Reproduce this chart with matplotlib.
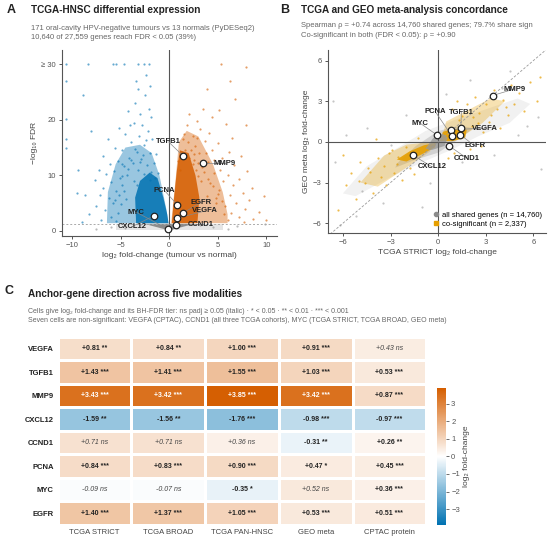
import numpy as np
import matplotlib
matplotlib.use("Agg")
import matplotlib.pyplot as plt
from matplotlib.colors import LinearSegmentedColormap
from matplotlib.lines import Line2D

plt.rcParams["font.family"] = ["Liberation Sans", "DejaVu Sans"]
plt.rcParams["axes.unicode_minus"] = True

BLUE = "#0072B2"
ORANGE = "#D55E00"
AMBER = "#E69F00"
GREY = "#8c8c8c"
TXT = "#222222"
SUB = "#666666"

# ---------------- panel A data (volcano) ----------------
anchor_genes = ["VEGFA", "TGFB1", "MMP9", "CXCL12", "CCND1", "PCNA", "MYC", "EGFR"]
volc_lfc = [0.81, 1.43, 3.43, -1.59, 0.71, 0.84, -0.09, 1.40]
volc_fdr = [2.3, 13.5, 12.2, 2.7, 1.1, 4.7, 0.3, 3.2]
volc_lab_x = [3.7, -0.05, 5.7, -3.8, 3.2, -0.5, -3.4, 3.3]
volc_lab_y = [3.6, 16.0, 12.2, 0.8, 1.2, 7.3, 3.4, 5.2]

blue_x = [-10.6, -8.3, -5.8, -5.5, -4.6, -3.2, -2.6, -2.1, -10.6, -10.6, -10.6, -10.6, -8.9, -2.4,
          -3.0, -8.0, -9.4, -9.5, -8.7, -3.2, -2.5, -3.5, -2.1, -4.2, -1.9, -3.6, -2.8, -5.2, -2.2,
          -4.5, -3.1, -6.3, -1.8, -3.9, -2.6, -5.6, -4.8, -3.3, -2.0, -6.8, -4.1, -2.9, -5.3, -3.7,
          -1.6, -6.1, -4.6, -7.2, -5.7, -3.2, -6.5, -4.3, -5.1, -7.6, -6.0, -4.9, -6.8, -5.5, -7.1,
          -6.2, -5.8, -7.5, -6.6, -5.3, -8.2, -6.0, -7.0, -5.5, -9.0, -4.0, -3.4, -2.0,
          -4.8, -4.2, -3.6, -3.0, -2.6, -2.3, -1.9, -1.5, -3.3, -4.6, -5.2, -5.6, -2.7, -3.9,
          -1.2, -4.4, -5.0, -2.0, -3.5, -2.4, -1.4, -4.9]
blue_y = [30, 30, 30, 30, 30, 30, 30, 30, 26.9, 20.2, 16.5, 15.0, 24.4, 28.0,
          21.0, 18.0, 11.0, 6.9, 6.5, 25.5, 24.5, 23.0, 22.0, 21.5, 20.5, 19.5, 19.0, 18.5, 18.0,
          17.5, 17.0, 16.5, 16.5, 16.0, 15.5, 15.0, 14.5, 14.2, 14.0, 13.5, 13.2, 13.0, 12.5, 12.2,
          12.2, 12.0, 11.6, 11.0, 10.8, 11.0, 10.2, 10.0, 9.5, 9.2, 8.8, 8.2, 7.8, 7.2, 6.5,
          6.0, 5.0, 4.5, 3.8, 3.2, 3.0, 2.5, 2.0, 1.8, 1.6, 19.0, 27.0, 26.0,
          9.8, 11.2, 9.0, 12.4, 10.2, 11.8, 10.6, 9.6, 8.2, 7.2, 6.4, 5.6, 13.6, 12.8,
          10.4, 5.8, 4.8, 9.2, 14.8, 16.4, 13.8, 12.0]
orange_x = [5.3, 7.9, 6.3, 6.8, 3.9, 5.1, 7.9, 9.7, 10.0, 3.5, 4.4, 2.9, 5.8, 3.2, 4.1, 2.4, 6.5,
            3.7, 5.0, 2.7, 4.4, 6.1, 3.1, 7.4, 5.4, 2.5, 4.0, 6.7, 3.4, 5.2, 8.0, 4.6, 6.0, 3.0,
            7.2, 5.5, 4.2, 6.6, 8.5, 5.1, 7.6, 6.3, 4.8, 8.2, 6.9, 5.7, 7.8, 9.2, 6.4, 7.2, 8.6,
            6.0, 7.7, 2.0, 1.8, 1.5, 1.9, 2.2,
            0.9, 1.2, 1.6, 2.0, 2.6, 3.0, 3.6, 4.0, 4.5, 5.0, 5.4, 2.8, 1.1, 2.4, 3.3, 4.8, 5.6,
            3.9, 1.4, 2.9, 3.8, 4.6]
orange_y = [30, 29.4, 27.0, 23.8, 25.6, 21.7, 19.0, 6.2, 2.0, 22.0, 20.5, 19.8, 19.3, 18.4, 17.6,
            17.0, 16.8, 16.2, 15.8, 15.2, 14.6, 14.2, 14.0, 13.5, 13.1, 12.8, 12.4, 11.8, 11.5,
            11.0, 10.8, 10.4, 10.0, 9.8, 9.4, 8.9, 8.6, 8.2, 7.8, 7.4, 6.9, 6.4, 6.0, 5.5, 5.0,
            4.5, 4.0, 3.5, 3.2, 2.6, 2.2, 1.9, 1.6, 21.0, 19.0, 17.5, 16.0, 14.5,
            12.5, 13.8, 14.6, 13.2, 13.9, 12.2, 10.6, 9.4, 8.0, 6.6, 5.4, 11.0, 11.0, 12.0, 9.0,
            5.0, 3.0, 6.2, 16.6, 16.8, 14.0, 12.8]
grey_vx = [-6.0, -4.5, 4.5, 6.0, -3.0, 3.2, 9.8, -7.5, 7.0]
grey_vy = [0.8, 0.5, 0.7, 0.4, 1.0, 1.1, 1.2, 0.3, 0.9]

# dense cores, outlines
blue_wide_x = [-6.4, -6.3, -5.5, -4.5, -3.0, -1.8, -1.0, -0.3, -0.07]
blue_wide_y = [1.4, 7.0, 12.0, 15.0, 15.5, 14.0, 10.0, 4.0, 1.4]
blue_core_x = [-3.4, -3.5, -3.0, -2.0, -1.2, -0.6, -0.2, -0.07]
blue_core_y = [1.4, 6.0, 9.0, 10.5, 9.5, 6.0, 3.0, 1.4]
orange_wide_x = [0.2, 0.7, 1.0, 1.8, 3.0, 4.5, 5.5, 6.0, 6.0]
orange_wide_y = [1.4, 10.0, 16.0, 18.0, 17.0, 12.0, 7.0, 3.0, 1.4]
orange_core_x = [0.27, 0.5, 0.8, 1.1, 2.0, 2.7, 3.1, 2.9]
orange_core_y = [1.4, 6.0, 11.0, 14.5, 14.0, 10.0, 6.0, 1.4]
grey_band_x = [-5.5, -5.5, 5.5, 5.5]
grey_band_y = [0.1, 1.3, 1.3, 0.1]
grey_v_x = [0.0, -2.6, 2.6]
grey_v_y = [0.1, 1.3, 1.3]

# ---------------- panel B data (concordance) ----------------
geo_lfc = [0.91, 1.03, 3.42, -0.98, -0.31, 0.47, 0.52, 0.53]
conc_lab_x = [2.93, 1.46, 4.8, -0.4, 1.8, -0.19, -1.14, 2.3]
conc_lab_y = [1.0, 2.17, 3.9, -1.83, -1.2, 2.25, 1.38, -0.3]

cosig_x = [-6.3, -5.8, -5.5, -5.2, -4.9, -4.6, -4.3, -4.1, -3.8, -3.6, -3.3, -3.1, -2.8, -2.5, -2.3,
           -2.0, -1.8, -1.5, -1.3, -6.0, -3.9, 0.9, 1.2, 1.5, 1.8, 2.1, 2.3, 2.6, 2.8, 3.0, 3.2,
           3.5, 3.7, 3.9, 4.1, 4.4, 4.6, 4.8, 5.1, 5.4, 5.8, 6.2, 2.0, 2.7, 6.4, 1.0, 0.6,
           -4.4, -3.4, -2.6, -2.9, -1.6, -5.0, 2.2, 2.5, 3.3, 1.3, 4.3]
cosig_y = [-5.0, -3.2, -2.3, -4.2, -1.5, -3.0, -2.2, -3.8, -1.2, -2.6, -3.2, -0.8, -2.3, -1.1, -2.8,
           -0.4, -1.9, -2.4, 0.3, -1.0, 0.2, 2.4, 3.0, 1.9, 2.8, 1.2, 3.3, 2.1, 0.7, 2.8, 1.5,
           3.8, 2.4, 1.0, 3.1, 2.0, 4.2, 2.8, 3.6, 2.3, 4.4, 3.0, -0.5, -0.3, 4.8, -0.8, -1.2,
           -1.9, -1.8, -1.6, -0.6, -1.2, -2.9, 1.8, 1.4, 2.0, 1.6, 2.6]
shared_x = [-6.5, -5.8, -4.5, -6.2, -3.5, -2.0, 3.5, 5.0, 6.3, 4.5, -0.5, 0.5, 6.5, -6.6, -1.0, 2.0,
            -4.8, -3.0, 1.5, 4.0, -5.2, 5.6]
shared_y = [-1.5, 0.5, 1.0, -6.1, -4.5, 2.0, -1.0, 0.5, 1.8, 5.2, -3.0, 3.5, -2.0, 3.0, -4.8, 4.6,
            -3.6, -0.2, -1.5, 4.0, -5.5, 1.2]

shared_wide_x = [-6.0, -4.5, -2.5, -0.8, 1.0, 3.0, 5.0, 5.8, 4.5, 2.5, 0.8, -1.0, -3.0, -5.2]
shared_wide_y = [-3.8, -1.8, -0.4, 0.8, 1.6, 2.4, 3.2, 2.8, 1.4, 0.4, -0.6, -1.5, -2.6, -4.0]
shared_mid_x = [-2.6, -1.4, 0.0, 1.4, 2.2, 1.3, 0.0, -1.4, -2.7]
shared_mid_y = [-1.6, -0.3, 0.8, 1.2, 1.0, 0.2, -0.8, -1.3, -1.9]
shared_core_x = [-0.8, -0.3, 0.3, 0.6, 0.4, -0.4]
shared_core_y = [-0.5, 0.3, 0.6, 0.3, -0.3, -0.6]
ll_wide_x = [-4.9, -3.4, -2.0, -0.3, -0.5, -2.0, -3.8]
ll_wide_y = [-3.0, -1.0, -0.2, 0.0, -0.7, -1.9, -3.3]
ll_core_x = [-2.6, -1.8, -0.9, -0.1, -0.2, -1.0, -2.0]
ll_core_y = [-1.3, -0.7, -0.25, -0.05, -0.4, -0.9, -1.45]
ur_wide_x = [0.2, 0.5, 1.8, 3.3, 4.2, 2.8, 1.4]
ur_wide_y = [0.05, 1.5, 2.3, 3.2, 3.0, 1.4, 0.3]
ur_core_x = [0.1, 0.3, 1.0, 1.8, 1.7, 0.9]
ur_core_y = [0.05, 0.75, 0.95, 0.9, 0.3, 0.05]

# ---------------- panel C data (heatmap) ----------------
modalities = ["TCGA STRICT", "TCGA BROAD", "TCGA PAN-HNSC", "GEO meta", "CPTAC protein"]
lfc_table = [[0.81, 0.84, 1.00, 0.91, 0.43],
             [1.43, 1.41, 1.55, 1.03, 0.53],
             [3.43, 3.42, 3.85, 3.42, 0.87],
             [-1.59, -1.56, -1.76, -0.98, -0.97],
             [0.71, 0.71, 0.36, -0.31, 0.26],
             [0.84, 0.83, 0.90, 0.47, 0.45],
             [-0.09, -0.07, -0.35, 0.52, 0.36],
             [1.40, 1.37, 1.05, 0.53, 0.51]]
tier_table = [["**", "**", "***", "***", "ns"],
              ["***", "***", "***", "***", "***"],
              ["***", "***", "***", "***", "***"],
              ["**", "**", "***", "***", "***"],
              ["ns", "ns", "ns", "**", "**"],
              ["***", "***", "***", "*", "***"],
              ["ns", "ns", "*", "ns", "***"],
              ["***", "***", "***", "***", "***"]]

fig = plt.figure(figsize=(5.5, 5.4), dpi=100)


def style_axes(ax):
    for s in ["top", "right"]:
        ax.spines[s].set_visible(False)
    for s in ["left", "bottom"]:
        ax.spines[s].set_color("#555555")
        ax.spines[s].set_linewidth(0.8)
    ax.tick_params(labelsize=5.5, colors="#555555", length=2.5, width=0.7, pad=2)


# ---------------- A ----------------
axA = fig.add_axes([0.113, 0.563, 0.391, 0.344])
axA.fill(grey_band_x, grey_band_y, color=GREY, alpha=0.22, lw=0)
axA.fill(grey_v_x, grey_v_y, color="#6e6e6e", alpha=0.75, lw=0)
axA.fill(blue_wide_x, blue_wide_y, color=BLUE, alpha=0.4, lw=0)
axA.fill(blue_core_x, blue_core_y, color=BLUE, alpha=0.85, lw=0)
axA.fill(orange_wide_x, orange_wide_y, color=ORANGE, alpha=0.4, lw=0)
axA.fill(orange_core_x, orange_core_y, color=ORANGE, alpha=0.85, lw=0)
axA.scatter(blue_x, blue_y, s=2.5, color=BLUE, alpha=0.6, lw=0)
axA.scatter(orange_x, orange_y, s=2.5, color=ORANGE, alpha=0.6, lw=0)
axA.scatter(grey_vx, grey_vy, s=2.5, color=GREY, alpha=0.6, lw=0)
axA.axvline(0, color="#555555", lw=0.8)
axA.axhline(-np.log10(0.05), color="#aaaaaa", lw=0.7, ls=(0, (2, 2)))
for i, g in enumerate(anchor_genes):
    axA.plot([volc_lfc[i], volc_lab_x[i]], [volc_fdr[i], volc_lab_y[i]], color="#888888", lw=0.5, zorder=4)
axA.scatter(volc_lfc, volc_fdr, s=22, facecolor="white", edgecolor="#222222", lw=0.9, zorder=5)
for i, g in enumerate(anchor_genes):
    axA.text(volc_lab_x[i], volc_lab_y[i], g, fontsize=5.5, fontweight="bold", color=TXT,
             ha="center", va="center", zorder=6)
axA.set_xlim(-11, 11.1)
axA.set_ylim(-0.9, 32.5)
axA.set_xticks([-10, -5, 0, 5, 10])
axA.set_yticks([0, 10, 20, 30])
axA.set_yticklabels(["0", "10", "20", "≥ 30"])
axA.set_xlabel("log₂ fold-change (tumour vs normal)", fontsize=6, color="#444444", labelpad=2)
axA.set_ylabel("−log₁₀ FDR", fontsize=6, color="#444444", labelpad=2)
style_axes(axA)

# ---------------- B ----------------
axB = fig.add_axes([0.596, 0.569, 0.397, 0.339])
axB.fill(shared_wide_x, shared_wide_y, color=GREY, alpha=0.12, lw=0)
axB.fill(shared_mid_x, shared_mid_y, color=GREY, alpha=0.3, lw=0)
axB.fill(ll_wide_x, ll_wide_y, color=AMBER, alpha=0.3, lw=0)
axB.fill(ur_wide_x, ur_wide_y, color=AMBER, alpha=0.3, lw=0)
axB.fill(ll_core_x, ll_core_y, color=AMBER, alpha=0.9, lw=0)
axB.fill(ur_core_x, ur_core_y, color=AMBER, alpha=0.9, lw=0)
axB.fill(shared_core_x, shared_core_y, color="#9a9a9a", alpha=0.8, lw=0)
axB.scatter(shared_x, shared_y, s=2.5, color=GREY, alpha=0.5, lw=0)
axB.scatter(cosig_x, cosig_y, s=2.5, color=AMBER, alpha=0.7, lw=0)
axB.axvline(0, color="#555555", lw=0.8)
axB.axhline(0, color="#555555", lw=0.8)
axB.plot([-7, 7], [-7, 7], color="#999999", lw=0.6, ls=(0, (3, 2)))
for i, g in enumerate(anchor_genes):
    axB.plot([volc_lfc[i], conc_lab_x[i]], [geo_lfc[i], conc_lab_y[i]], color="#888888", lw=0.5, zorder=4)
axB.scatter(volc_lfc, geo_lfc, s=22, facecolor="white", edgecolor="#222222", lw=0.9, zorder=5)
for i, g in enumerate(anchor_genes):
    axB.text(conc_lab_x[i], conc_lab_y[i], g, fontsize=5.5, fontweight="bold", color=TXT,
             ha="center", va="center", zorder=6)
axB.set_xlim(-6.95, 6.8)
axB.set_ylim(-6.7, 6.8)
axB.set_xticks([-6, -3, 0, 3, 6])
axB.set_yticks([-6, -3, 0, 3, 6])
axB.set_xlabel("TCGA STRICT log₂ fold-change", fontsize=6, color="#444444", labelpad=2)
axB.set_ylabel("GEO meta log₂ fold-change", fontsize=6, color="#444444", labelpad=2)
style_axes(axB)
handles = [Line2D([], [], ls="", marker="o", ms=3, color=GREY),
           Line2D([], [], ls="", marker="s", ms=3, color=AMBER)]
axB.legend(handles, ["all shared genes (n = 14,760)", "co-significant (n = 2,337)"],
           loc="lower right", fontsize=5.5, frameon=False, handletextpad=0.2,
           borderaxespad=0.2, labelspacing=0.3, handlelength=1.0)

# ---------------- C ----------------
cmap = LinearSegmentedColormap.from_list("bo", [BLUE, "white", ORANGE])
vals = np.array(lfc_table)
vmax = 3.9
axC = fig.add_axes([0.105, 0.028, 0.67, 0.348])
mesh = axC.pcolormesh(vals, cmap=cmap, vmin=-vmax, vmax=vmax, edgecolors="white", linewidth=1.0)
axC.set_xlim(0, len(modalities))
axC.set_ylim(len(anchor_genes), 0)
for r in range(len(anchor_genes)):
    for c in range(len(modalities)):
        v = lfc_table[r][c]
        t = tier_table[r][c]
        col = "white" if abs(v) > 2.5 else TXT
        if t == "ns":
            axC.text(c + 0.5, r + 0.5, f"{v:+.2f} ns", ha="center", va="center",
                     fontsize=5, style="italic", color="#444444")
        else:
            axC.text(c + 0.5, r + 0.5, f"{v:+.2f} {t}", ha="center", va="center",
                     fontsize=5, fontweight="bold", color=col)
axC.set_xticks(np.arange(len(modalities)) + 0.5)
axC.set_xticklabels(modalities, fontsize=5.5, color="#444444")
axC.set_yticks(np.arange(len(anchor_genes)) + 0.5)
axC.set_yticklabels(anchor_genes, fontsize=5.5, fontweight="bold", color=TXT)
axC.tick_params(length=0, pad=3)
for s in axC.spines.values():
    s.set_visible(False)

cax = fig.add_axes([0.795, 0.028, 0.0164, 0.2535])
cb = fig.colorbar(mesh, cax=cax)
cb.outline.set_visible(False)
cb.set_ticks([-3, -2, -1, 0, 1, 2, 3])
cb.ax.tick_params(labelsize=5.5, colors="#555555", length=2, width=0.6, pad=1.5)
cb.set_label("log₂ fold-change", fontsize=6, color="#444444", labelpad=2)

# ---------------- titles ----------------
fig.text(0.013, 0.981, "A", fontsize=9, fontweight="bold", color=TXT, va="center")
fig.text(0.056, 0.981, "TCGA-HNSC differential expression", fontsize=7.2, fontweight="bold",
         color=TXT, va="center")
fig.text(0.056, 0.948, "171 oral-cavity HPV-negative tumours vs 13 normals (PyDESeq2)",
         fontsize=5.5, color=SUB, va="center")
fig.text(0.056, 0.931, "10,640 of 27,559 genes reach FDR < 0.05 (39%)", fontsize=5.5, color=SUB, va="center")

fig.text(0.509, 0.981, "B", fontsize=9, fontweight="bold", color=TXT, va="center")
fig.text(0.547, 0.981, "TCGA and GEO meta-analysis concordance", fontsize=7.2, fontweight="bold",
         color=TXT, va="center")
fig.text(0.547, 0.952, "Spearman ρ = +0.74 across 14,760 shared genes; 79.7% share sign",
         fontsize=5.5, color=SUB, va="center")
fig.text(0.547, 0.935, "Co-significant in both (FDR < 0.05): ρ = +0.90", fontsize=5.5, color=SUB, va="center")

fig.text(0.009, 0.461, "C", fontsize=9, fontweight="bold", color=TXT, va="center")
fig.text(0.051, 0.456, "Anchor-gene direction across five modalities", fontsize=7.2, fontweight="bold",
         color=TXT, va="center")
fig.text(0.051, 0.424,
         "Cells give log₂ fold-change and its BH-FDR tier: ns padj ≥ 0.05 (italic) · * < 0.05 · ** < 0.01 · *** < 0.001",
         fontsize=5, color=SUB, va="center")
fig.text(0.051, 0.406,
         "Seven cells are non-significant: VEGFA (CPTAC), CCND1 (all three TCGA cohorts), MYC (TCGA STRICT, TCGA BROAD, GEO meta)",
         fontsize=5, color=SUB, va="center")

fig.savefig("out.png", dpi=100)
